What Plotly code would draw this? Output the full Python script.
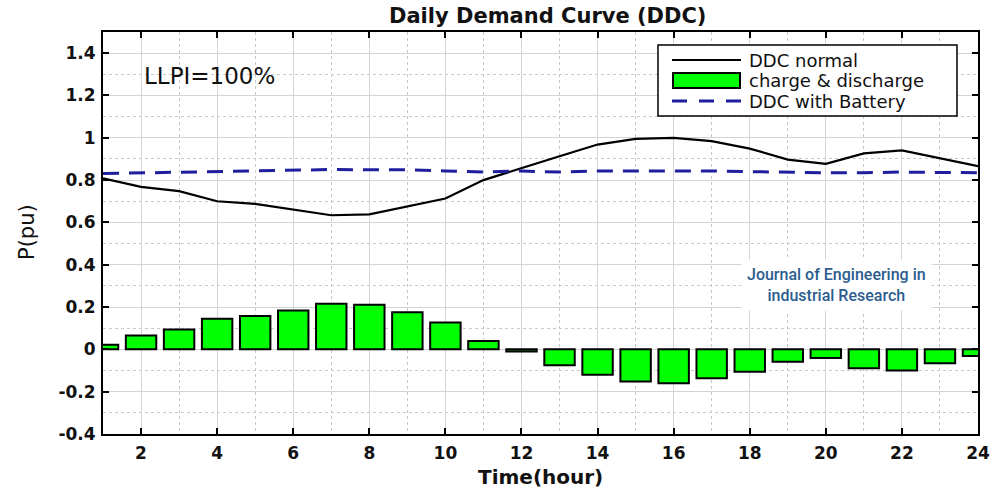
import plotly.graph_objects as go

hours = list(range(1, 25))
ddc_normal = [0.808, 0.768, 0.748, 0.700, 0.688, 0.661, 0.634, 0.638, 0.674, 0.713,
              0.800, 0.858, 0.913, 0.968, 0.995, 1.000, 0.984, 0.949, 0.897, 0.877,
              0.926, 0.940, 0.902, 0.866]
charge_discharge = [0.022, 0.066, 0.094, 0.145, 0.158, 0.184, 0.216, 0.211, 0.175, 0.127,
                    0.039, -0.010, -0.075, -0.120, -0.152, -0.160, -0.136, -0.106, -0.059, -0.041,
                    -0.089, -0.100, -0.066, -0.031]
ddc_battery = [0.831, 0.834, 0.840, 0.843, 0.846, 0.847, 0.850, 0.849, 0.849, 0.843,
               0.838, 0.843, 0.838, 0.843, 0.843, 0.845, 0.843, 0.840, 0.836, 0.835,
               0.835, 0.838, 0.836, 0.835]
x_ticks = list(range(2, 25, 2))
y_ticks = [-0.4, -0.2, 0, 0.2, 0.4, 0.6, 0.8, 1, 1.2, 1.4]
y_tick_text = ["-0.4", "-0.2", "0", "0.2", "0.4", "0.6", "0.8", "1", "1.2", "1.4"]
legend_names = ["DDC normal", "charge & discharge", "DDC with Battery"]

FONT = "DejaVu Sans"
W, H = 992, 488
ML, MR, MT, MB = 103, 14, 32, 54
PW, PH = W - ML - MR, H - MT - MB


def px(xp):
    return (xp - ML) / PW


def py(yp):
    return (H - MB - yp) / PH


fig = go.Figure()
fig.add_trace(go.Scatter(x=hours, y=ddc_normal, mode="lines", name=legend_names[0],
                         line=dict(color="black", width=2.2)))
fig.add_trace(go.Bar(x=hours, y=charge_discharge, name=legend_names[1], width=0.8,
                     marker=dict(color="#00ff00", line=dict(color="black", width=2))))
fig.add_trace(go.Scatter(x=hours, y=ddc_battery, mode="lines", name=legend_names[2],
                         line=dict(color="#1f1f9e", width=3, dash="16px,10px")))

axis_common = dict(
    showline=True, linecolor="black", linewidth=2, mirror="ticks",
    ticks="inside", ticklen=6, tickwidth=2, tickcolor="black",
    showgrid=True, gridcolor="#d4d4d4", gridwidth=1,
    zeroline=False, automargin=False,
    tickfont=dict(family=FONT, size=17, color="#111", weight="bold"),
)

fig.update_xaxes(range=[1, 24], tickvals=x_ticks, ticktext=[str(v) for v in x_ticks],
                 ticklabelstandoff=3,
                 minor=dict(tickvals=list(range(1, 25, 2)), ticks="", showgrid=True,
                            gridcolor="#c8c8c8", griddash="dot", gridwidth=1),
                 **axis_common)
fig.update_yaxes(range=[-0.4, 1.5], tickvals=y_ticks, ticktext=y_tick_text,
                 ticklabelstandoff=2,
                 minor=dict(tickvals=[-0.3, -0.1, 0.1, 0.3, 0.5, 0.7, 0.9, 1.1, 1.3], ticks="",
                            showgrid=True, gridcolor="#c8c8c8", griddash="dot", gridwidth=1),
                 **axis_common)

shapes = [
    # legend box
    dict(type="rect", xref="paper", yref="paper", x0=px(658), x1=px(957), y0=py(116), y1=py(45),
         fillcolor="white", line=dict(color="black", width=1.5), layer="above"),
    dict(type="line", xref="paper", yref="paper", x0=px(672), x1=px(741), y0=py(60), y1=py(60),
         line=dict(color="black", width=2.2), layer="above"),
    dict(type="rect", xref="paper", yref="paper", x0=px(673), x1=px(740), y0=py(88), y1=py(73),
         fillcolor="#00ff00", line=dict(color="black", width=2), layer="above"),
    dict(type="line", xref="paper", yref="paper", x0=px(672), x1=px(741), y0=py(101), y1=py(101),
         line=dict(color="#1f1f9e", width=3, dash="15px,12px"), layer="above"),
]

annotations = [
    dict(text="Daily Demand Curve (DDC)", xref="paper", yref="paper", x=px(547), y=py(16),
         xanchor="center", yanchor="middle", showarrow=False,
         font=dict(family=FONT, size=21, color="#111", weight="bold")),
    dict(text="Time(hour)", xref="paper", yref="paper", x=px(540), y=py(477),
         xanchor="center", yanchor="middle", showarrow=False,
         font=dict(family=FONT, size=20, color="#111", weight="bold")),
    dict(text="P(pu)", xref="paper", yref="paper", x=px(27), y=py(232), textangle=-90,
         xanchor="center", yanchor="middle", showarrow=False,
         font=dict(family=FONT, size=21, color="#111")),
    dict(text="LLPI=100%", xref="paper", yref="paper", x=px(142), y=py(76), xanchor="left",
         yanchor="middle", showarrow=False, font=dict(family=FONT, size=23, color="#111")),
    dict(text="Journal of Engineering in<br>industrial Research", xref="paper", yref="paper",
         x=px(836), y=py(285), xanchor="center", yanchor="middle", showarrow=False,
         bgcolor="white", borderpad=5, align="center",
         font=dict(family="Roboto", size=16, color="#2c5c8f", weight=500)),
]
for i, (name, yp) in enumerate(zip(legend_names, [60, 81, 101])):
    annotations.append(dict(text=name, xref="paper", yref="paper", x=px(747), y=py(yp),
                            xanchor="left", yanchor="middle", showarrow=False,
                            font=dict(family=FONT, size=18, color="#111")))

fig.update_layout(
    width=W, height=H,
    margin=dict(l=ML, r=MR, t=MT, b=MB),
    paper_bgcolor="white", plot_bgcolor="white",
    showlegend=False,
    shapes=shapes,
    annotations=annotations,
)

fig.write_html("out.html")
